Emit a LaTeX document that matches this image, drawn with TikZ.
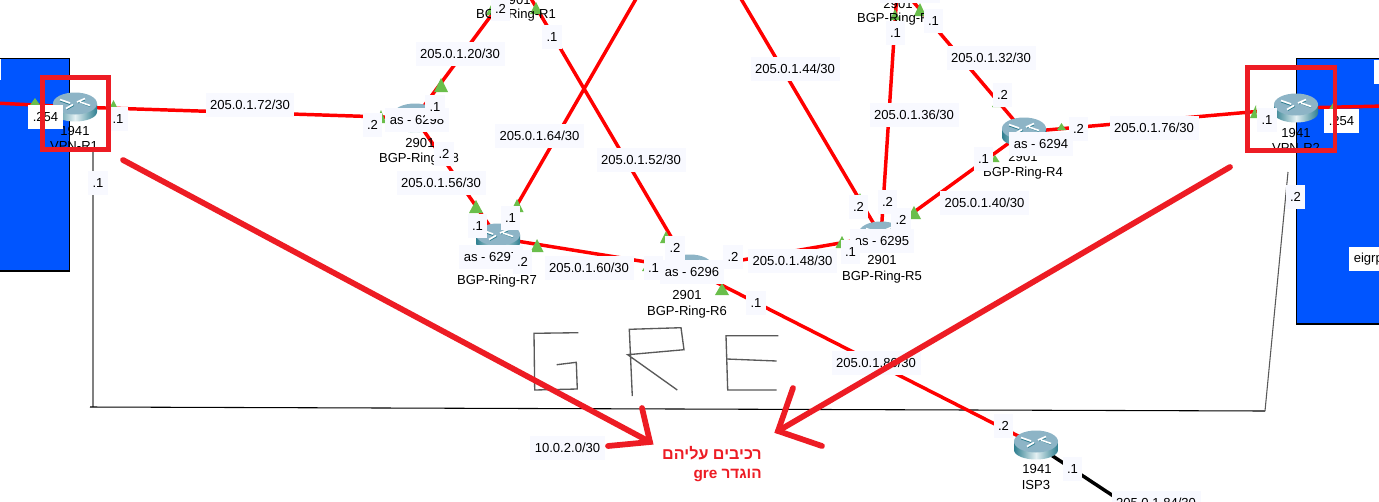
\documentclass[tikz,border=0pt]{standalone}
\usepackage{fontspec}
\setmainfont{Liberation Sans}
\newfontfamily\hebfont[Script=Hebrew]{Liberation Sans}
\TeXXeTstate=1
\definecolor{blueArea}{HTML}{0055FF}
\definecolor{linkRed}{HTML}{FF0000}
\definecolor{markRed}{HTML}{ED1C24}
\definecolor{labelBg}{HTML}{F8F9FF}
\definecolor{upGreen}{HTML}{6ABE4B}
\definecolor{rTop}{HTML}{8DB4C6}
\definecolor{rDark}{HTML}{2F7F90}
\definecolor{rLight}{HTML}{E4F0F3}
\tikzset{
  link/.style={draw=linkRed,line width=2.6pt},
  blacklink/.style={draw=black,line width=2.6pt},
  markarrow/.style={draw=markRed,line width=4.3pt,line cap=round,line join=miter},
  markbox/.style={draw=markRed,line width=3.5pt},
  lbl/.style={fill=labelBg,text=black,font=\fontsize{9.8}{11}\selectfont,minimum height=18pt,inner xsep=3.4pt,inner ysep=0pt},
  whitelbl/.style={lbl,fill=white},
  rtext/.style={text=black,font=\fontsize{9.8}{11}\selectfont,inner sep=0pt},
  hand/.style={draw=black!65,line width=1pt},
  router/.pic={
    \shade[left color=rDark,right color=rDark,middle color=rLight]
      (-22,-3.5) -- (-22,5) arc[x radius=22,y radius=9.5,start angle=180,end angle=0] -- (22,-3.5) -- cycle;
    \fill[rTop] (0,-3.5) ellipse[x radius=22,y radius=11];
    \draw[rDark,line width=.6pt] (-15,-6) -- (-5,-2.5) (15,-.5) -- (6,-4) (-8,2.5) -- (-1,-1.5) (10,-7) -- (3,-4);
    \draw[white,line width=1.2pt] (-15,-7.5) -- (-5,-4) (15,-1.5) -- (5,-5) (-9,1.5) -- (-2,-2.5) (10,-8.5) -- (2,-5);
  }
}
\newcommand{\uptri}[4]{\fill[upGreen] (#1,#2) -- (#1-#4,#3) -- (#1+#4,#3) -- cycle;}
\begin{document}
\begin{tikzpicture}[x=0.75pt,y=-0.75pt]
\useasboundingbox (0,0) rectangle (1379,501);
\clip (0,0) rectangle (1379,501);
\fill[white] (0,0) rectangle (1379,501);

% areas
\draw[fill=blueArea,draw=black,line width=.8pt] (-5,58.5) rectangle (69.5,271);
\draw[fill=blueArea,draw=black,line width=.8pt] (1296.5,58.5) rectangle (1390,324);
\fill[white] (0,59) rectangle (1,80);
\fill[white] (1374,60) rectangle (1380,84);

% anchors
\coordinate (VPNA) at (75,107);
\coordinate (VPNB) at (1296,108);
\coordinate (R1a) at (510,-10);
\coordinate (R1b) at (526,-10);
\coordinate (R2a) at (897,-8);
\coordinate (R2b) at (905,-8);
\coordinate (R4) at (1024,132);
\coordinate (R5) at (881,236);
\coordinate (R6) at (690,269);
\coordinate (R7) at (498,238);
\coordinate (R8) at (415,118);
\coordinate (ISP) at (1036,445);
\coordinate (edgeL) at (-5,103);
\coordinate (edgeR) at (1385,106);
\coordinate (topA) at (640,-8);
\coordinate (topB) at (737,-8);
\coordinate (blackEnd) at (1130,507);
\coordinate (grayTop) at (93,150);
\coordinate (corL) at (93,407);
\coordinate (corStart) at (90,407);
\coordinate (corR) at (1265,411);
\coordinate (greyTopR) at (1288,172);

% thin links
\draw[draw=black!50,line width=1.5pt] (grayTop) -- (corL);
\draw[draw=black,line width=.8pt] (corStart) -- (corR);
\draw[draw=black!65,line width=.8pt] (corR) -- (greyTopR);

% red links
\draw[link] (edgeL) -- (VPNA);
\draw[link] (VPNA) -- (R8);
\draw[link] (R8) -- (R1a);
\draw[link] (R1b) -- (R6);
\draw[link] (R8) -- (R7);
\draw[link] (R7) -- (topA);
\draw[link] (R5) -- (topB);
\draw[link] (R7) -- (R6);
\draw[link] (R6) -- (R5);
\draw[link] (R6) -- (ISP);
\draw[link] (R5) -- (R2a);
\draw[link] (R2b) -- (R4);
\draw[link] (R4) -- (R5);
\draw[link] (R4) -- (VPNB);
\draw[link] (VPNB) -- (edgeR);
\draw[blacklink] (ISP) -- (blackEnd);

% link-state triangles
\uptri{113.5}{100}{108}{4}
\uptri{35}{98}{105}{5}
\uptri{441}{78}{92}{7}
\uptri{536}{2}{14}{6}
\uptri{492}{3}{15}{6}
\uptri{381}{110}{123}{5}
\uptri{476}{200}{213}{7}
\uptri{517}{199}{212}{6.5}
\uptri{537}{239}{252}{6.5}
\uptri{647}{263}{271}{5}
\uptri{666}{231}{243}{6}
\uptri{722}{283}{295}{7}
\uptri{842}{236}{248}{6.5}
\uptri{914}{206}{219}{7}
\uptri{860}{193}{205}{5}
\uptri{920}{3}{16}{6}
\uptri{895}{9}{20}{5}
\uptri{1061.5}{123}{130}{4.5}
\uptri{998}{97}{107}{6}
\uptri{995}{155}{162}{4.5}
\uptri{1333}{103}{111}{5}
\fill[upGreen] (1256,105) -- (1250,118) -- (1257,118) -- cycle;

% routers
\pic at (VPNA) {router};
\pic at (VPNB) {router};
\pic at (R4) {router};
\pic at (R5) {router};
\pic at (R6) {router};
\pic at (R7) {router};
\pic at (R8) {router};
\pic at (ISP) {router};

% device captions
\node[rtext] (t1a) at (75,131) {1941};
\node[rtext] (t1b) at (74,146) {VPN-R1};
\node[rtext] (t2a) at (1296,133) {1941};
\node[rtext] (t2b) at (1296,148) {VPN-R2};
\node[rtext] (t3a) at (516,0) {2901};
\node[rtext] (t3b) at (516,15) {BGP-Ring-R1};
\node[rtext] (t4a) at (898,4) {2901};
\node[rtext] (t4b) at (897,19) {BGP-Ring-R2};
\node[rtext] (t5a) at (420,143) {2901};
\node[rtext] (t5b) at (419,159) {BGP-Ring-R8};
\node[rtext] (t6a) at (497,264) {2901};
\node[rtext] (t6b) at (497,281) {BGP-Ring-R7};
\node[rtext] (t7a) at (687,295) {2901};
\node[rtext] (t7b) at (687,312) {BGP-Ring-R6};
\node[rtext] (t8a) at (882,260) {2901};
\node[rtext] (t8b) at (882,277) {BGP-Ring-R5};
\node[rtext] (t9a) at (1023,157) {2901};
\node[rtext] (t9b) at (1023,173) {BGP-Ring-R4};
\node[rtext] (t10a) at (1037,469) {1941};
\node[rtext] (t10b) at (1036,485) {ISP3};

% labels
\node[lbl] (n72) at (250,105) {205.0.1.72/30};
\node[lbl] (n20) at (460,53.5) {205.0.1.20/30};
\node[lbl] (n64) at (539.5,136) {205.0.1.64/30};
\node[lbl] (n52) at (641,160) {205.0.1.52/30};
\node[lbl] (n56) at (441,183) {205.0.1.56/30};
\node[lbl] (n60) at (589,268) {205.0.1.60/30};
\node[lbl] (n48) at (792.5,261) {205.0.1.48/30};
\node[lbl] (n44) at (795,68.5) {205.0.1.44/30};
\node[lbl] (n36) at (914,114.5) {205.0.1.36/30};
\node[lbl] (n32) at (991,57.5) {205.0.1.32/30};
\node[lbl] (n40) at (984.5,203) {205.0.1.40/30};
\node[lbl] (n76) at (1154,128) {205.0.1.76/30};
\node[lbl] (n80) at (876,363) {205.0.1.80/30};
\node[lbl] (n84) at (1156,503) {205.0.1.84/30};
\node[lbl] (n10) at (567.5,448) {10.0.2.0/30};

\node[lbl,minimum width=45pt,inner sep=0pt] (asTop) at (910,-9) {};
\node[lbl] (as8) at (417,120) {as - 6298};
\node[lbl] (as7) at (491,256.5) {as - 6297};
\node[lbl] (as6) at (692,271.5) {as - 6296};
\node[lbl] (as5) at (882,241) {as - 6295};
\node[lbl] (as4) at (1041,143.5) {as - 6294};

\node[lbl] (a1) at (118,119) {.1};
\node[whitelbl] (a2) at (45.5,116.5) {.254};
\node[lbl] (a3) at (98,183) {.1};
\node[lbl] (a4) at (500.5,9) {.2};
\node[lbl] (a5) at (552,37) {.1};
\node[lbl] (a6) at (435,107) {.1};
\node[lbl] (a7) at (372.5,125) {.2};
\node[lbl] (a8) at (444,154) {.2};
\node[lbl] (a9) at (510.5,218) {.1};
\node[lbl] (a10) at (477.5,226) {.1};
\node[lbl] (a11) at (522.5,262) {.2};
\node[lbl] (a12) at (653.5,268) {.1};
\node[lbl] (a13) at (675,248) {.2};
\node[lbl] (a14) at (733,257) {.2};
\node[lbl] (a15) at (756,303) {.1};
\node[lbl] (a16) at (850.5,252) {.1};
\node[lbl] (a17) at (858.5,207) {.2};
\node[lbl] (a18) at (887.5,202) {.2};
\node[lbl] (a19) at (901,219.5) {.2};
\node[lbl] (a20) at (895.5,33) {.1};
\node[lbl] (a21) at (933.5,21) {.1};
\node[lbl] (a22) at (1002.5,95) {.2};
\node[lbl] (a23) at (1078.5,128.5) {.2};
\node[lbl] (a24) at (983.5,158.5) {.1};
\node[lbl] (a25) at (1267,120) {.1};
\node[whitelbl] (a26) at (1341.5,120.5) {.254};
\node[lbl] (a27) at (1295.5,197) {.2};
\node[lbl] (a28) at (1003.5,426) {.2};
\node[lbl] (a29) at (1072.5,469) {.1};
\node[whitelbl,anchor=west] (eig) at (1349,259) {eigrp};

% hand-drawn GRE
\draw[hand] (578.3,332.7) -- (534,333.3) -- (534.7,390) -- (577.3,389) -- (576.3,362.3) -- (556.7,364.7);
\draw[hand] (632.3,396) -- (629.3,329.3) -- (681,327.7) -- (684,349.7) -- (627.7,354.7) -- (677.3,390);
\draw[hand] (778.3,335.7) -- (726,335.7) -- (727.7,390) -- (776.7,390);
\draw[hand] (726.7,359) -- (776.7,361);

% red frames and arrows
\draw[markbox] (42.5,77.5) rectangle (108.5,149.5);
\draw[markbox] (1247.5,67.5) rectangle (1335,150.5);
\coordinate (tailL) at (123,160);
\coordinate (tipL) at (650,442);
\coordinate (tailR) at (1230,167);
\coordinate (tipR) at (778,431);
\coordinate (hL1) at (642,408);
\coordinate (hL2) at (608,446);
\coordinate (hR1) at (793,388);
\coordinate (hR2) at (822,446);
\draw[markarrow] (tailL) -- (tipL);
\draw[markarrow] (hL1) -- (tipL) -- (hL2);
\draw[markarrow] (tailR) -- (tipR);
\draw[markarrow] (hR1) -- (tipR) -- (hR2);

% hebrew note
\node[anchor=east,text=markRed,inner sep=0pt,font=\hebfont\bfseries\fontsize{12.1}{14}\selectfont] (he1) at (762,453) {\beginR רכיבים עליהם\endR};
\node[anchor=east,text=markRed,inner sep=0pt,font=\hebfont\bfseries\fontsize{11.5}{13}\selectfont] (he2) at (762,475) {\beginR הוגדר \beginL gre\endL\endR};
\end{tikzpicture}
\end{document}
